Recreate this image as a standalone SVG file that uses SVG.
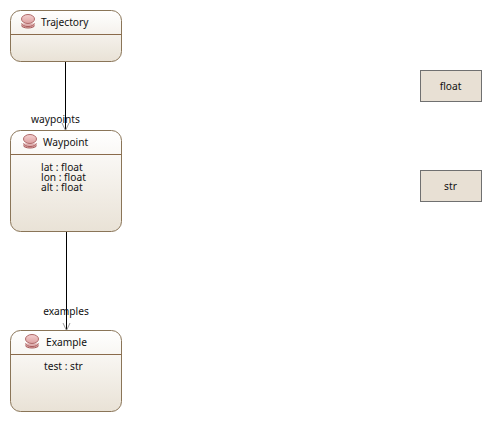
<svg xmlns="http://www.w3.org/2000/svg" width="491" height="421" viewBox="0 0 491 421">
<style>
text{font-family:"Noto Sans","Open Sans","DejaVu Sans",sans-serif;font-size:10.200px;fill:#111}
.n{fill:url(#g);stroke:#8a7558;stroke-width:1}
.d{fill:none;stroke:#8a6a4a;stroke-width:1}
.p{fill:#e8e0d4;stroke:#707070;stroke-width:1}
.c{fill:none;stroke:#000;stroke-width:1}
.h{fill:none;stroke:#9a9a9a;stroke-width:1}
</style>
<defs>
<linearGradient id="g" x1="0" y1="0" x2="0" y2="1"><stop offset="0" stop-color="#ffffff"/><stop offset="1" stop-color="#e9e2d6"/></linearGradient>
<linearGradient id="i" x1="0" y1="0" x2="0" y2="1"><stop offset="0" stop-color="#f4d0d0"/><stop offset="1" stop-color="#dca0a0"/></linearGradient>
<g id="ic"><path d="M-6.500 2.500a6.500 3 0 0 0 13 0M-6.500 4.500a6.500 2.500 0 0 0 13 0" fill="#e0b0b0" stroke="#a85a5a"/><ellipse cx="0" cy="-2" rx="6.500" ry="4.500" fill="url(#i)" stroke="#b06a6a"/></g>
</defs>
<g id="connectors">
<path class="c" d="M65.500 61.500V130.500"/><path class="h" d="M62 123L65.500 130.500L69 123"/>
<path class="c" d="M66.500 231.500V330.500"/><path class="h" d="M63 323L66.500 330.500L70 323"/>
<text x="55.500" y="123" text-anchor="middle">waypoints</text>
<text x="66" y="315" text-anchor="middle">examples</text>
</g>
<g id="Trajectory"><rect class="n" x="10.500" y="10.500" width="111" height="51" rx="10"/><path class="d" d="M10.500 34.500H121.500"/><use href="#ic" x="28" y="21"/><text x="41" y="26">Trajectory</text></g>
<g id="Waypoint"><rect class="n" x="10.500" y="130.500" width="111" height="101" rx="10"/><path class="d" d="M10.500 154.500H121.500"/><use href="#ic" x="30" y="141"/><text x="43" y="146">Waypoint</text><text x="41" y="171">lat : float</text><text x="41" y="181">lon : float</text><text x="41" y="191">alt : float</text></g>
<g id="Example"><rect class="n" x="10.500" y="330.500" width="111" height="81" rx="10"/><path class="d" d="M10.500 354.500H121.500"/><use href="#ic" x="32" y="341"/><text x="46" y="346">Example</text><text x="44" y="370">test : str</text></g>
<g id="float"><rect class="p" x="420.500" y="70.500" width="61" height="31"/><text x="450.500" y="90" text-anchor="middle">float</text></g>
<g id="str"><rect class="p" x="420.500" y="170.500" width="61" height="31"/><text x="450.500" y="190" text-anchor="middle">str</text></g>
</svg>
